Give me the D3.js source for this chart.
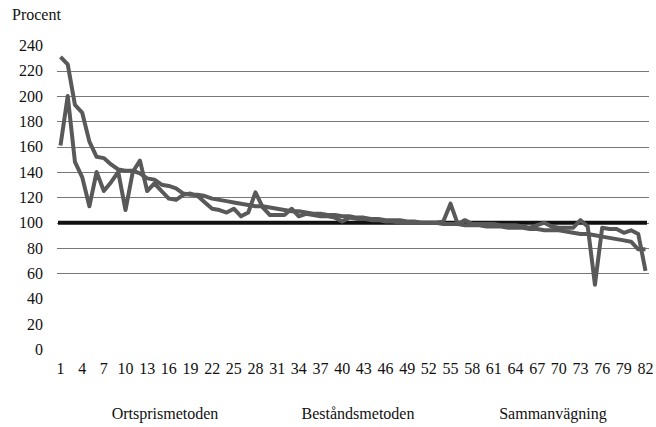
<!DOCTYPE html>
<html>
<head>
<meta charset="utf-8">
<script src="https://cdn.jsdelivr.net/npm/d3@7.9.0/dist/d3.min.js"></script>
<style>
  body { margin: 0; background: #fff; }
</style>
</head>
<body>
<svg width="656" height="427"></svg>
<script>
// Ortsprismetoden (sorted) and Beståndsmetoden, in procent of Sammanvägning
const ortspris = [231, 225, 193, 187, 164, 152, 151, 146, 142, 141, 141, 139, 135, 134, 130, 129, 127, 123, 122, 122,
  121, 119, 118, 117, 116, 115, 114, 113, 113, 112, 111, 110, 109, 109, 108, 107, 107, 106, 106, 105,
  105, 104, 104, 103, 103, 102, 102, 102, 101, 101, 100, 100, 100, 99, 99, 99, 98, 98, 98, 97,
  97, 97, 96, 96, 96, 95, 95, 94, 94, 94, 93, 92, 91, 91, 90, 89, 88, 87, 86, 85, 79, 79];
const bestand = [161, 200, 148, 136, 113, 140, 125, 132, 140, 110, 140, 149, 125, 131, 125, 119, 118, 122, 123, 121,
  116, 111, 110, 108, 111, 105, 108, 124, 112, 106, 106, 106, 111, 105, 107, 106, 105, 105, 104, 101,
  104, 103, 103, 102, 102, 101, 101, 100, 100, 100, 100, 100, 100, 101, 115, 99, 102, 99, 99, 99,
  99, 98, 98, 98, 97, 96, 98, 100, 97, 96, 96, 96, 102, 97, 51, 96, 95, 95, 92, 94, 91, 62];
const sammanvagning = ortspris.map(() => 100);
const obs = d3.range(1, 83);
const xTicks = d3.range(1, 83, 3);
const yTicks = d3.range(0, 241, 20);
const gridTicks = d3.range(60, 221, 20);
const legendLabels = ['Ortsprismetoden', 'Beståndsmetoden', 'Sammanvägning'];

const svg = d3.select('svg')
  .attr('font-family', "'Liberation Serif', 'DejaVu Serif', serif")
  .attr('font-size', 16)
  .attr('fill', '#111');
const x = d3.scaleLinear().domain([1, 82]).range([60.5, 645.5]);
const y = d3.scaleLinear().domain([0, 240]).range([349.3, 45.4]);

svg.append('text').attr('x', 12).attr('y', 20).text('Procent');

// gridlines
svg.append('g').selectAll('line').data(gridTicks).join('line')
  .attr('x1', 57).attr('x2', 649)
  .attr('y1', d => Math.round(y(d)) + 0.5).attr('y2', d => Math.round(y(d)) + 0.5)
  .attr('stroke', '#777').attr('stroke-width', 1.2);

// y labels
svg.append('g').selectAll('text').data(yTicks).join('text')
  .attr('x', 43).attr('y', d => y(d)).attr('dy', '0.35em')
  .attr('text-anchor', 'end').text(d => d);

// x labels
svg.append('g').selectAll('text').data(xTicks).join('text')
  .attr('x', d => x(d)).attr('y', 373.5)
  .attr('text-anchor', 'middle').text(d => d);

const line = d3.line().x((d, i) => x(obs[i])).y(d => y(d));

svg.append('path').datum(sammanvagning)
  .attr('d', d3.line().x((d, i) => x(obs[i]) + (i === 0 ? -2.5 : i === 81 ? 1.5 : 0)).y(d => y(d)))
  .attr('fill', 'none').attr('stroke', '#111').attr('stroke-width', 4);

[ortspris, bestand].forEach(s => {
  svg.append('path').datum(s)
    .attr('d', line)
    .attr('fill', 'none').attr('stroke', '#595959')
    .attr('stroke-width', 4).attr('stroke-linejoin', 'round');
});

// legend (no markers visible in the original)
const legendX = [165, 358, 553];
svg.append('g').selectAll('text').data(legendLabels).join('text')
  .attr('x', (d, i) => legendX[i]).attr('y', 418.5)
  .attr('text-anchor', 'middle').text(d => d);
</script>
</body>
</html>
